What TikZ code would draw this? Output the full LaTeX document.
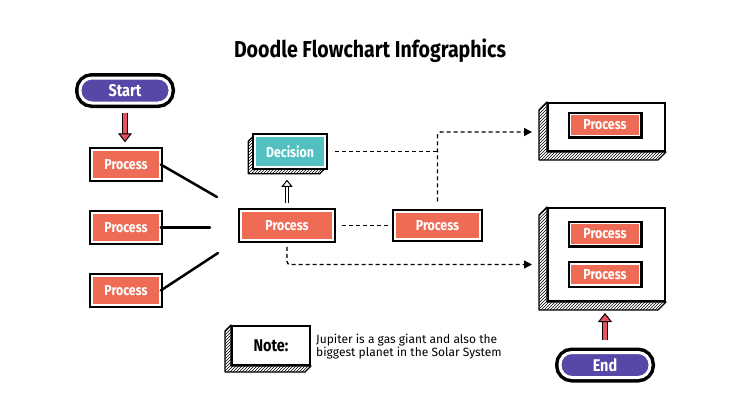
\documentclass[tikz,border=0pt]{standalone}
\usepackage{fontspec}
\setmainfont{Fira Sans}
\newfontfamily\condfont{Fira Sans}[FakeStretch=0.85]
\usetikzlibrary{positioning,arrows.meta,patterns,backgrounds,calc}

\definecolor{procred}{HTML}{EE6C55}
\definecolor{pillblue}{HTML}{5747A6}
\definecolor{decteal}{HTML}{52BFC0}
\definecolor{arrowred}{HTML}{E8515D}

% hatched side of a box, drawn behind it
\newcommand{\hatchside}[2]{%
  \begin{scope}[on background layer]
    \draw[line width=1.2pt, pattern=north east lines, line join=round]
      (#1.north west) -- ++(-#2,#2) |- ($(#1.south east)+(-#2,#2)$)
      -- (#1.south east) -- (#1.south west) -- cycle;
  \end{scope}}

\begin{document}
\begin{tikzpicture}[x=1pt, y=-1pt,
    proc/.style = {rectangle, fill=procred, draw=white, line width=1.5pt,
      preaction={draw=black, line width=6pt}, text=white, inner sep=0pt,
      font=\condfont\bfseries\fontsize{14.5}{16}\selectfont,
      minimum width=68pt, minimum height=29pt},
    pill/.style = {rectangle, rounded corners=12pt, fill=pillblue, draw=white,
      line width=3pt, preaction={draw=black, line width=10pt}, text=white,
      inner sep=0pt, font=\condfont\bfseries\fontsize{17}{19}\selectfont,
      minimum width=90pt, minimum height=25pt},
    panel/.style = {rectangle, fill=white, draw=black, line width=2pt, inner sep=0pt},
    stroke/.style = {line width=2.5pt, line cap=round},
    dashline/.style = {line width=1.3pt, dash pattern=on 4pt off 3pt},
    tip/.style = {-{Triangle[length=8pt, width=8pt]}},
    redarr/.style = {draw=black, line width=1pt, double=arrowred, double distance=4.5pt,
      -{Triangle[length=9pt, width=14pt, fill=arrowred, line width=1pt]}},
    hollow/.style = {draw=black, line width=1pt, double=white, double distance=2.5pt,
      -{Triangle[length=7pt, width=11pt, fill=white, line width=1pt]}},
    node distance=63pt]
    \useasboundingbox (0,0) rectangle (740,416);

    \node (title) at (370,51) {\condfont\bfseries\fontsize{23}{26}\selectfont Doodle Flowchart Infographics};

    % left column
    \node[pill] (start) at (125,90.5) {Start};
    \node[proc] (p1) at (126,164.5) {Process};
    \node[proc] (p2) [below of=p1] {Process};
    \node[proc] (p3) [below of=p2] {Process};
    \draw[redarr, shorten <=8pt, shorten >=7pt] (start.south) -- (start.south |- p1.north);

    \coordinate (c1) at (217,197);
    \coordinate (c2) at (210,227.5);
    \coordinate (c3) at (218,253);
    \draw[stroke] (p1.east) -- (c1);
    \draw[stroke] (p2.east) -- (c2);
    \draw[stroke] (p3.east) -- (c3);

    % middle
    \node[proc, minimum width=92pt] (cp) at (287,225.5) {Process};
    \node[proc, fill=decteal, minimum width=70pt, minimum height=31pt] (dec) at (290,151.5) {Decision};
    \hatchside{dec}{6}
    \node[proc, minimum width=85pt, minimum height=27pt] (p4) at (437.5,225.5) {Process};
    \draw[hollow, shorten <=7pt, shorten >=12pt] (cp.north) -- (cp.north |- dec.south);

    % right panels
    \node[panel, minimum width=117pt, minimum height=48pt] (top) at (606.5,127) {};
    \hatchside{top}{8}
    \node[proc, minimum height=21pt, minimum width=69pt] (r1) at (605,125) {Process};

    \node[panel, minimum width=117pt, minimum height=93pt] (bot) at (606.5,254.5) {};
    \hatchside{bot}{8}
    \node[proc, minimum height=21pt, minimum width=69pt] (r2) at (605,234) {Process};
    \node[proc, minimum height=21pt, minimum width=69pt] (r3) [below=18pt of r2] {Process};

    \node[pill] (end) at (605,365) {End};
    \draw[redarr, shorten <=11pt, shorten >=11pt] (end.north) -- (end.north |- bot.south);

    % dashed links
    \draw[dashline, shorten <=9pt] (dec.east) -- (dec.east -| p4.north);
    \draw[dashline, tip, rounded corners=3pt, shorten <=10pt, shorten >=15pt] (p4.north) |- ($(top.west)+(0,5)$);
    \draw[dashline, shorten <=8pt, shorten >=4pt] (cp.east) -- (p4.west);
    \draw[dashline, tip, rounded corners=3pt, shorten <=6pt, shorten >=15pt] (cp.south) |- ($(bot.west)+(0,10)$);

    % note
    \node[panel, minimum width=78pt, minimum height=39pt,
      font=\condfont\bfseries\fontsize{17}{19}\selectfont] (note) at (271,345.5) {Note:};
    \hatchside{note}{6}
    \node[anchor=west, align=left, inner sep=0pt, font=\fontsize{12}{13.5}\selectfont] (text) at (316,346.5)
      {Jupiter is a gas giant and also the\\biggest planet in the Solar System};
\end{tikzpicture}
\end{document}
